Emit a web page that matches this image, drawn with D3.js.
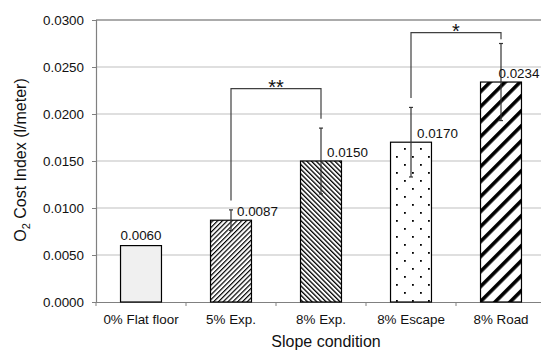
<!DOCTYPE html>
<html>
<head>
<meta charset="utf-8">
<script src="https://cdn.jsdelivr.net/npm/d3@7"></script>
<style>
  body { margin: 0; background: #fff; }
  svg { font-family: "Liberation Sans", Arial, sans-serif; }
</style>
</head>
<body>
<svg id="chart" width="541" height="351"></svg>
<script>
// data
const categories = ["0% Flat floor", "5% Exp.", "8% Exp.", "8% Escape", "8% Road"];
const means = [0.0060, 0.0087, 0.0150, 0.0170, 0.0234];
const sds = [0, 0.0011, 0.0035, 0.0037, 0.0041];
const fills = ["#f0f0f0", "url(#upThin)", "url(#downThin)", "url(#dots)", "url(#upWide)"];
const yTicks = [0, 0.005, 0.01, 0.015, 0.02, 0.025, 0.03];
// significance brackets: bar indexes, label, bracket height
const brackets = [
  { from: 1, to: 2, label: "**", y: 0.0227 },
  { from: 3, to: 4, label: "*", y: 0.02866 }
];

let svg = d3.select("#chart");
let margin = { left: 96, top: 20, bottom: 49 };
let plotH = 351 - margin.top - margin.bottom;

// patterns
let defs = svg.append("defs");
function stripes(id, w, lw, angle) {
  let p = defs.append("pattern")
    .attr("id", id)
    .attr("patternUnits", "userSpaceOnUse")
    .attr("width", w)
    .attr("height", w)
    .attr("patternTransform", `rotate(${angle})`);
  p.append("rect").attr("width", w).attr("height", w).attr("fill", "#fff");
  p.append("rect").attr("x", 0).attr("width", lw).attr("height", w).attr("fill", "#000");
}
stripes("upThin", 3.4, 1.2, 45);
stripes("downThin", 3.3, 1.3, -45);
stripes("upWide", 10.6, 3.6, 45);
let dots = defs.append("pattern")
  .attr("id", "dots")
  .attr("patternUnits", "userSpaceOnUse")
  .attr("width", 16)
  .attr("height", 16);
dots.append("rect").attr("width", 16).attr("height", 16).attr("fill", "#fff");
dots.append("rect").attr("x", 4).attr("y", 4).attr("width", 1.8).attr("height", 1.8).attr("fill", "#000");
dots.append("rect").attr("x", 12).attr("y", 12).attr("width", 1.8).attr("height", 1.8).attr("fill", "#000");

// scales
let xScale = d3.scaleBand()
  .domain(categories)
  .range([margin.left, margin.left + 450])
  .paddingInner(0.545)
  .paddingOuter(0.2725);
let yScale = d3.scaleLinear()
  .domain([0, 0.03])
  .range([margin.top + plotH, margin.top]);
let fmt = d3.format(".4f");

// gridlines
svg.append("g")
  .selectAll("line")
  .data(yTicks.slice(1, -1))
  .enter()
  .append("line")
  .attr("x1", margin.left)
  .attr("x2", 541)
  .attr("y1", d => yScale(d))
  .attr("y2", d => yScale(d))
  .attr("stroke", "#c0c0c0")
  .attr("stroke-width", 1.2);

// top border
svg.append("line")
  .attr("x1", margin.left).attr("x2", 541)
  .attr("y1", yScale(0.03)).attr("y2", yScale(0.03))
  .attr("stroke", "#595959").attr("stroke-width", 1.2);

// y axis
let yAxis = d3.axisLeft(yScale).tickValues(yTicks).tickFormat(fmt).tickSize(4).tickPadding(8);
let gy = svg.append("g")
  .attr("transform", `translate(${margin.left},0)`)
  .call(yAxis);
gy.select(".domain").attr("stroke", "#808080").attr("stroke-width", 1.2);
gy.selectAll(".tick line").attr("stroke", "#808080");
gy.selectAll("text").style("font-size", "13.4px").attr("fill", "#111");

// x axis (ticks between categories)
let xAxis = d3.axisBottom(xScale).tickSize(0).tickPadding(12);
let gx = svg.append("g")
  .attr("transform", `translate(0,${yScale(0)})`)
  .call(xAxis);
gx.select(".domain").attr("stroke", "#808080").attr("stroke-width", 1.2);
gx.selectAll("text").style("font-size", "13.4px").attr("fill", "#111");
let step = xScale.step();
gx.selectAll(".sep")
  .data(d3.range(categories.length + 1))
  .enter()
  .append("line")
  .attr("x1", i => margin.left + i * step)
  .attr("x2", i => margin.left + i * step)
  .attr("y1", 0)
  .attr("y2", 4)
  .attr("stroke", "#808080");

// bars
svg.append("g")
  .selectAll("rect")
  .data(categories)
  .enter()
  .append("rect")
  .attr("x", d => xScale(d))
  .attr("y", (d, i) => yScale(means[i]))
  .attr("width", xScale.bandwidth())
  .attr("height", (d, i) => yScale(0) - yScale(means[i]))
  .attr("fill", (d, i) => fills[i])
  .attr("stroke", "#000")
  .attr("stroke-width", 1.2);

// error bars
let cx = i => xScale(categories[i]) + xScale.bandwidth() / 2;
let eb = svg.append("g").attr("stroke", "#333").attr("stroke-width", 1.2);
categories.forEach((c, i) => {
  if (!sds[i]) return;
  let y1 = yScale(means[i] + sds[i]);
  let y2 = yScale(means[i] - sds[i]);
  eb.append("line").attr("x1", cx(i)).attr("x2", cx(i)).attr("y1", y1).attr("y2", y2);
  eb.append("line").attr("x1", cx(i) - 2).attr("x2", cx(i) + 2).attr("y1", y1).attr("y2", y1);
  eb.append("line").attr("x1", cx(i) - 2).attr("x2", cx(i) + 2).attr("y1", y2).attr("y2", y2);
});

// value labels (kept inside the window on the right)
svg.append("g")
  .selectAll("text")
  .data(categories)
  .enter()
  .append("text")
  .attr("x", (d, i) => sds[i] ? cx(i) + 6 : cx(i))
  .attr("y", (d, i) => yScale(means[i]) - (sds[i] ? 4 : 5.5))
  .attr("text-anchor", (d, i) => sds[i] ? "start" : "middle")
  .style("font-size", "13.4px")
  .attr("fill", "#111")
  .text((d, i) => fmt(means[i]))
  .each(function () {
    let bb = this.getBBox();
    if (bb.x + bb.width > 540) d3.select(this).attr("x", 540 - bb.width);
  });

// significance brackets
let bg = svg.append("g");
brackets.forEach(b => {
  let legY = i => yScale(Math.min(means[i] + sds[i] + 0.001, b.y - 0.0007));
  let top = yScale(b.y);
  bg.append("path")
    .attr("d", `M${cx(b.from)},${legY(b.from)}V${top}H${cx(b.to)}V${legY(b.to)}`)
    .attr("fill", "none")
    .attr("stroke", "#404040")
    .attr("stroke-width", 1.2);
  bg.append("text")
    .attr("x", (cx(b.from) + cx(b.to)) / 2)
    .attr("y", top + 5)
    .attr("text-anchor", "middle")
    .style("font-size", "20px")
    .attr("fill", "#111")
    .text(b.label);
});

// axis titles
svg.append("text")
  .attr("x", 326)
  .attr("y", 347)
  .attr("text-anchor", "middle")
  .style("font-size", "16px")
  .attr("fill", "#111")
  .text("Slope condition");

let yt = svg.append("text")
  .attr("transform", "translate(26,160) rotate(-90)")
  .attr("text-anchor", "middle")
  .style("font-size", "16px")
  .attr("fill", "#111");
yt.append("tspan").text("O");
yt.append("tspan").attr("dy", 4).style("font-size", "11px").text("2");
yt.append("tspan").attr("dy", -4).text(" Cost Index (l/meter)");
</script>
</body>
</html>
